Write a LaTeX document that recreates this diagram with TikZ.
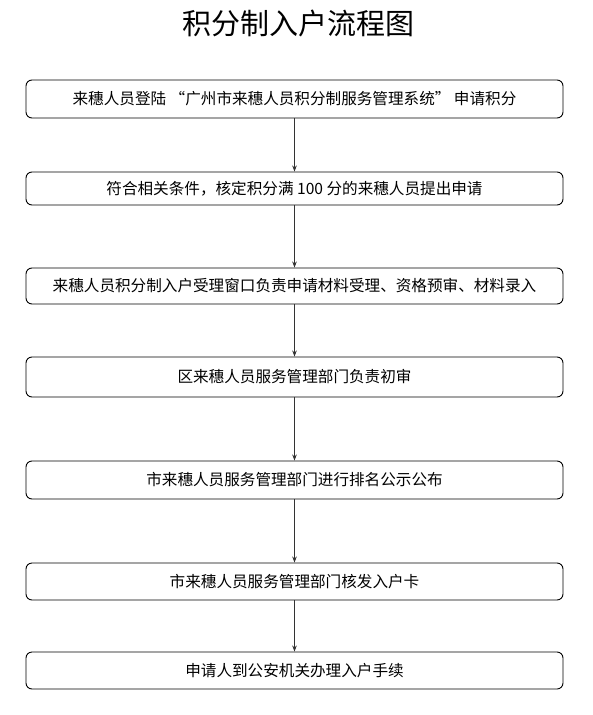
\documentclass[tikz,border=0pt]{standalone}
\usepackage{fontspec}
\usetikzlibrary{arrows.meta,positioning}
\newfontfamily\cjk{Noto Sans CJK SC}
\definecolor{edge}{HTML}{333333}

\tikzset{
  stepbox/.style={draw=black, line width=0.9pt, rounded corners=6pt, fill=white,
    minimum width=537pt, inner sep=0pt, font=\fontsize{15.6pt}{18pt}\cjk},
  flow/.style={draw=edge, line width=0.8pt, -{Stealth[length=6pt,width=4.5pt]}}
}

\begin{document}
\begin{tikzpicture}[x=1pt, y=-1pt]
  \useasboundingbox[fill=white] (0,0) rectangle (592,715);
  \node[font=\fontsize{29pt}{32pt}\cjk] (title) at (298,23) {积分制入户流程图};
  \node[stepbox, minimum height=38pt] (S1) at (294.5,99)
    {来穗人员登陆 “广州市来穗人员积分制服务管理系统” 申请积分};
  \node[stepbox, minimum height=33pt] (S2) at (294.5,188.5)
    {符合相关条件，核定积分满 100 分的来穗人员提出申请};
  \node[stepbox, minimum height=36pt] (S3) at (294.5,286)
    {来穗人员积分制入户受理窗口负责申请材料受理、资格预审、材料录入};
  \node[stepbox, minimum height=40pt] (S4) at (294.5,377)
    {区来穗人员服务管理部门负责初审};
  \node[stepbox, minimum height=38pt] (S5) at (294.5,480)
    {市来穗人员服务管理部门进行排名公示公布};
  \node[stepbox, minimum height=37pt] (S6) at (294.5,581.5)
    {市来穗人员服务管理部门核发入户卡};
  \node[stepbox, minimum height=37pt] (S7) at (294.5,670.5)
    {申请人到公安机关办理入户手续};
  % arrows between steps
  \foreach \a/\b in {S1/S2, S2/S3, S3/S4, S4/S5, S5/S6, S6/S7}
    \draw[flow] (\a) -- (\b);
\end{tikzpicture}
\end{document}
